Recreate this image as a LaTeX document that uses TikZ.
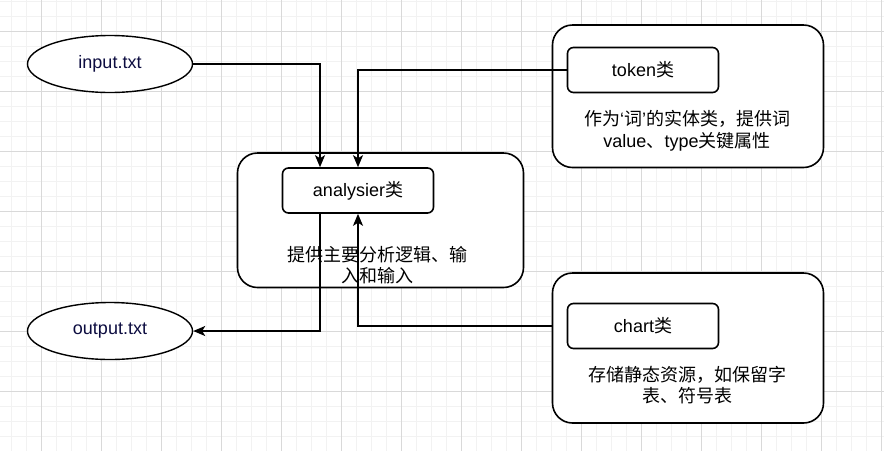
\documentclass[tikz,border=0pt]{standalone}
\usepackage{fontspec}
\setmainfont{Liberation Sans}
\newfontfamily\cjk{Noto Sans CJK SC}
\usetikzlibrary{shapes.geometric,arrows.meta}
\definecolor{gridmajor}{RGB}{217,217,217}
\definecolor{gridminor}{RGB}{242,242,242}
\definecolor{filetext}{RGB}{12,12,64}
\tikzset{
  every node/.style={font=\fontsize{18}{21.5}\selectfont},
  filenode/.style={ellipse, draw, line width=1.4pt, fill=white, inner sep=0pt,
    minimum width=165pt, minimum height=57pt, text=filetext},
  outerbox/.style={draw, line width=1.6pt, fill=white, rounded corners=20pt, inner sep=0pt},
  classbox/.style={draw, line width=1.6pt, fill=white, rounded corners=6pt, inner sep=0pt,
    minimum width=151pt, minimum height=45pt},
  desc/.style={align=center, inner sep=0pt},
  link/.style={line width=1.6pt, -{Stealth[length=12pt,width=10pt,inset=3pt]}},
}
\begin{document}
\begin{tikzpicture}[x=1pt,y=-1pt]
  % canvas and background grid
  \fill[white] (0,0) rectangle (884,451);
  \useasboundingbox (0,0) rectangle (884,451);
  \foreach \gx in {11.7,26.7,...,884}{\draw[gridminor, line width=1pt] (\gx,0) -- (\gx,451);}
  \foreach \gy in {1.7,16.7,...,451}{\draw[gridminor, line width=1pt] (0,\gy) -- (884,\gy);}
  \foreach \gx in {41.7,101.7,...,884}{\draw[gridmajor, line width=1pt] (\gx,0) -- (\gx,451);}
  \foreach \gy in {31.7,91.7,...,451}{\draw[gridmajor, line width=1pt] (0,\gy) -- (884,\gy);}

  % input / output files
  \node[filenode] (in) at (110,64) {input.txt};
  \node[filenode] (out) at (110,331) {output.txt};

  % analyser group
  \node[outerbox, minimum width=286pt, minimum height=134.5pt] (anaOuter) at (380.5,220.25) {};
  \node[classbox] (ana) at (358,190.5) {analysier{\cjk 类}};
  \node[desc] (anaDesc) at (377,265) {{\cjk 提供主要分析逻辑、输}\\{\cjk 入和输入}};

  % token group
  \node[outerbox, minimum width=271pt, minimum height=142.5pt] (tokOuter) at (688,96.25) {};
  \node[classbox] (tok) at (643,70) {token{\cjk 类}};
  \node[desc] (tokDesc) at (687,130.5) {{\cjk 作为}`{\cjk 词}'{\cjk 的实体类，提供词}\\value{\cjk 、}type{\cjk 关键属性}};

  % chart group
  \node[outerbox, minimum width=271pt, minimum height=150pt] (chOuter) at (688,348) {};
  \node[classbox] (ch) at (643,326) {chart{\cjk 类}};
  \node[desc] (chDesc) at (687.5,385) {{\cjk 存储静态资源，如保留字}\\{\cjk 表、符号表}};

  % connectors
  \draw[link] (in.east) -| ([xshift=-38pt]ana.north);
  \draw[link] (tok.west) -| (ana.north);
  \draw[link] ([xshift=-38pt]ana.south) |- (out.east);
  \draw[link] (chOuter.west |- ch.west) -| (ana.south);
\end{tikzpicture}
\end{document}
